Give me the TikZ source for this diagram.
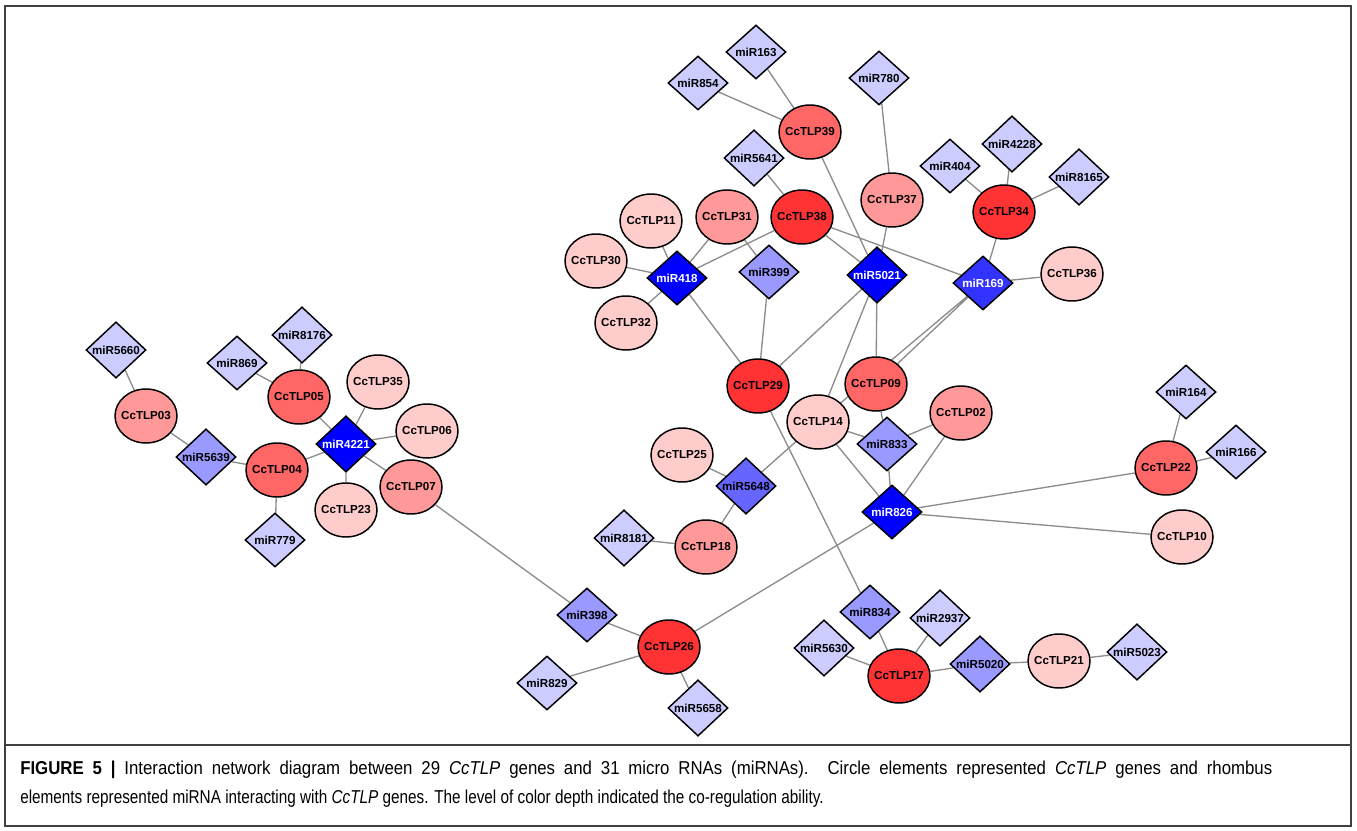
\documentclass[tikz,border=0pt]{standalone}
\usepackage{fontspec}
\setmainfont{Liberation Sans}
\newfontfamily\capfont[FakeStretch=0.82]{Liberation Sans}
\newfontfamily\capwide[FakeStretch=0.90]{Liberation Sans}
\usetikzlibrary{shapes.geometric,backgrounds}
\definecolor{rA}{HTML}{FF3333}
\definecolor{rB}{HTML}{FF6666}
\definecolor{rC}{HTML}{FF9999}
\definecolor{rD}{HTML}{FFCCCC}
\definecolor{bA}{HTML}{0000FF}
\definecolor{bB}{HTML}{3333FF}
\definecolor{bC}{HTML}{6666FF}
\definecolor{bD}{HTML}{9999FF}
\definecolor{bE}{HTML}{CCCCFF}
\begin{document}
\begin{tikzpicture}[x=.75pt,y=-.75pt,every node/.style={font=\bfseries\fontsize{8.7}{10}\selectfont},
 gene/.style={ellipse,draw,line width=1.1pt,minimum width=46.5pt,minimum height=40.5pt,inner xsep=-2.5pt,inner ysep=0pt},
 mir/.style={diamond,draw,line width=1.1pt,minimum width=45pt,minimum height=40.5pt,inner sep=0pt},
 link/.style={draw=black!45,line width=1pt}]
 \useasboundingbox (0,0) rectangle (1357,831);
 \draw[line width=1.5pt,black!75] (5,6) rectangle (1351,826);
 \draw[line width=1pt,black!75] (5,745)--(1351,745);
 % genes
 \node[gene,fill=rC] (t03) at (146,416) {CcTLP03};
 \node[gene,fill=rB] (t05) at (299,397) {CcTLP05};
 \node[gene,fill=rD] (t35) at (378,382) {CcTLP35};
 \node[gene,fill=rD] (t06) at (427,431) {CcTLP06};
 \node[gene,fill=rB] (t04) at (277,470) {CcTLP04};
 \node[gene,fill=rC] (t07) at (411,487) {CcTLP07};
 \node[gene,fill=rD] (t23) at (346,510) {CcTLP23};
 \node[gene,fill=rB] (t39) at (810,132) {CcTLP39};
 \node[gene,fill=rC] (t37) at (892,200) {CcTLP37};
 \node[gene,fill=rA] (t34) at (1004,212) {CcTLP34};
 \node[gene,fill=rA] (t38) at (802,217) {CcTLP38};
 \node[gene,fill=rC] (t31) at (727,217) {CcTLP31};
 \node[gene,fill=rD] (t11) at (651,221) {CcTLP11};
 \node[gene,fill=rD] (t30) at (596,261) {CcTLP30};
 \node[gene,fill=rD] (t32) at (626,323) {CcTLP32};
 \node[gene,fill=rD] (t36) at (1072,274) {CcTLP36};
 \node[gene,fill=rA] (t29) at (758,386) {CcTLP29};
 \node[gene,fill=rB] (t09) at (876,384) {CcTLP09};
 \node[gene,fill=rD] (t14) at (818,422) {CcTLP14};
 \node[gene,fill=rC] (t02) at (961,413) {CcTLP02};
 \node[gene,fill=rD] (t25) at (682,455) {CcTLP25};
 \node[gene,fill=rC] (t18) at (706,547) {CcTLP18};
 \node[gene,fill=rB] (t22) at (1166,468) {CcTLP22};
 \node[gene,fill=rD] (t10) at (1182,537) {CcTLP10};
 \node[gene,fill=rA] (t26) at (669,647) {CcTLP26};
 \node[gene,fill=rA] (t17) at (899,676) {CcTLP17};
 \node[gene,fill=rD] (t21) at (1059,661) {CcTLP21};
 % miRNAs
 \node[mir,fill=bE] (m5660) at (116,350) {miR5660};
 \node[mir,fill=bE] (m869) at (237,363) {miR869};
 \node[mir,fill=bE] (m8176) at (302,335) {miR8176};
 \node[mir,fill=bD] (m5639) at (206,457) {miR5639};
 \node[mir,fill=bA,text=white] (m4221) at (346,444) {miR4221};
 \node[mir,fill=bE] (m779) at (275,540) {miR779};
 \node[mir,fill=bE] (m163) at (756,52) {miR163};
 \node[mir,fill=bE] (m854) at (698,83) {miR854};
 \node[mir,fill=bE] (m780) at (879,78) {miR780};
 \node[mir,fill=bE] (m5641) at (754,158) {miR5641};
 \node[mir,fill=bE] (m404) at (950,166) {miR404};
 \node[mir,fill=bE] (m4228) at (1012,144) {miR4228};
 \node[mir,fill=bE] (m8165) at (1079,177) {miR8165};
 \node[mir,fill=bA,text=white] (m418) at (677,278) {miR418};
 \node[mir,fill=bD] (m399) at (769,272) {miR399};
 \node[mir,fill=bA,text=white] (m5021) at (877,275) {miR5021};
 \node[mir,fill=bB,text=white] (m169) at (983,283) {miR169};
 \node[mir,fill=bD] (m833) at (887,444) {miR833};
 \node[mir,fill=bC] (m5648) at (746,486) {miR5648};
 \node[mir,fill=bE] (m8181) at (624,538) {miR8181};
 \node[mir,fill=bA,text=white] (m826) at (892,512) {miR826};
 \node[mir,fill=bE] (m164) at (1186,392) {miR164};
 \node[mir,fill=bE] (m166) at (1236,452) {miR166};
 \node[mir,fill=bD] (m398) at (587,615) {miR398};
 \node[mir,fill=bE] (m829) at (547,683) {miR829};
 \node[mir,fill=bE] (m5658) at (698,708) {miR5658};
 \node[mir,fill=bD] (m834) at (870,612) {miR834};
 \node[mir,fill=bE] (m2937) at (940,618) {miR2937};
 \node[mir,fill=bE] (m5630) at (824,648) {miR5630};
 \node[mir,fill=bD] (m5020) at (980,664) {miR5020};
 \node[mir,fill=bE] (m5023) at (1137,652) {miR5023};
 % links
 \begin{pgfonlayer}{background}
 \draw[link] (m5660)--(t03) (t03)--(m5639) (m5639)--(t04) (t04)--(m779) (t04)--(m4221)
  (m869)--(t05) (m8176)--(t05) (t05)--(m4221) (m4221)--(t35) (m4221)--(t06)
  (m4221)--(t07) (m4221)--(t23) (t07)--(m398);
 \draw[link] (m398)--(t26) (t26)--(m829) (t26)--(m5658) (t26)--(m826);
 \draw[link] (m163)--(t39) (m854)--(t39) (t39)--(m5021) (m780)--(t37) (t37)--(m5021)
  (m5641)--(t38) (t38)--(m418) (t38)--(m5021) (t38)--(m169)
  (t11)--(m418) (t30)--(m418) (t32)--(m418) (t31)--(m418) (t31)--(m399)
  (m418)--(t29) (m399)--(t29) (m5021)--(t29) (m5021)--(t14) (m5021)--(t09)
  (m404)--(t34) (m4228)--(t34) (m8165)--(t34) (t34)--(m169) (m169)--(t36)
  (m169)--(t09) (m169)--(t14);
 \draw[link] (t14)--(m833) (t14)--(m826) (t14)--(m5648) (t09)--(m833) (m833)--(t02)
  (m833)--(m826) (m826)--(t02) (m826)--(t22) (m826)--(t10) (t22)--(m164) (t22)--(m166)
  (t25)--(m5648) (m5648)--(t18) (t18)--(m8181);
 \draw[link] (t29)--(m834) (m834)--(t17) (m2937)--(t17) (m5630)--(t17) (t17)--(m5020)
  (m5020)--(t21) (t21)--(m5023);
 \end{pgfonlayer}
 % caption
 \node[anchor=base west,inner sep=0pt,font=\capwide\mdseries\fontsize{14}{17}\selectfont] (cap1) at (20,774)
  {\makebox[939pt][s]{\textbf{FIGURE 5 |} Interaction network diagram between 29 \textit{CcTLP} genes and 31 micro RNAs (miRNAs). Circle elements represented \textit{CcTLP} genes and rhombus}};
 \node[anchor=base west,inner sep=0pt,font=\capfont\mdseries\fontsize{14}{17}\selectfont] (cap2) at (20,803)
  {elements represented miRNA interacting with \textit{CcTLP} genes. The level of color depth indicated the co-regulation ability.};
\end{tikzpicture}
\end{document}
